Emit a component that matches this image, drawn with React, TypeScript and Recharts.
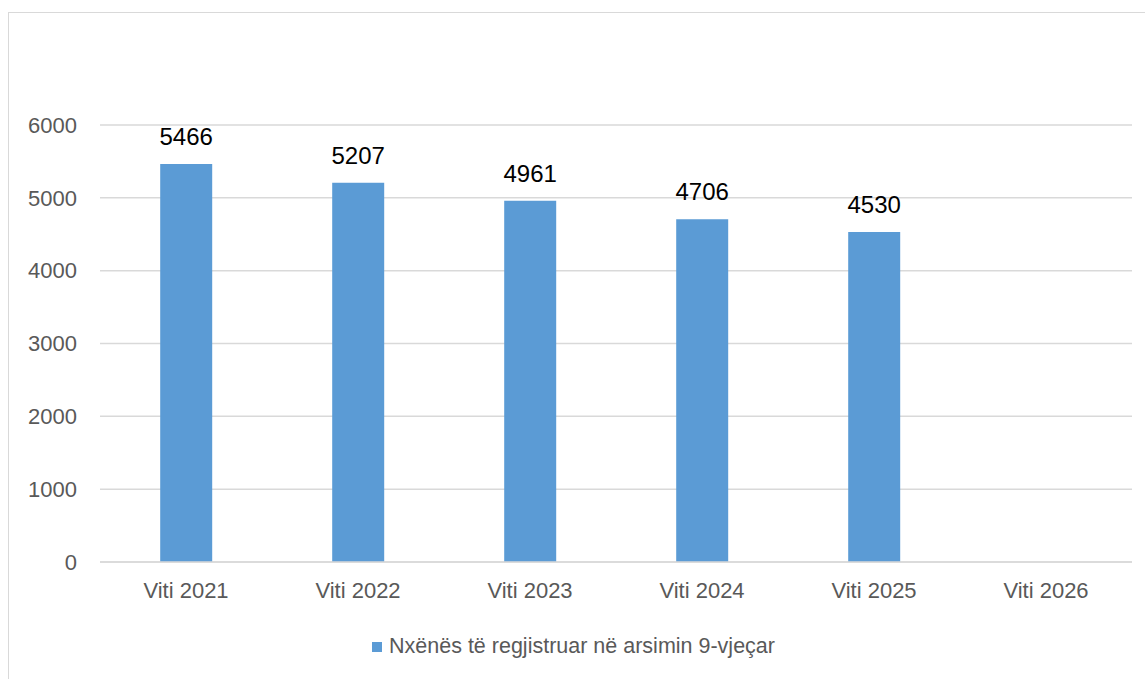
import React from "react";
import { BarChart, Bar, XAxis, YAxis, CartesianGrid, Legend, LabelList } from "recharts";

const categories = ["Viti 2021", "Viti 2022", "Viti 2023", "Viti 2024", "Viti 2025", "Viti 2026"];
const students: (number | null)[] = [5466, 5207, 4961, 4706, 4530, null];
const yTicks = [0, 1000, 2000, 3000, 4000, 5000, 6000];
const seriesName = "Nxënës të regjistruar në arsimin 9-vjeçar";

const data = categories.map((c, i) => ({ name: c, value: students[i] }));

const FONT = "'Liberation Sans', Arial, sans-serif";

export default function App() {
  return (
    <div style={{ position: "absolute", left: 0, top: 0, width: 1145, height: 679, overflow: "hidden", background: "#fff" }}>
      <div style={{ position: "absolute", left: 8, top: 12, width: 1160, height: 700, border: "1px solid #d9d9d9", boxSizing: "border-box" }} />
      <div style={{ position: "absolute", left: 0, top: 0 }}>
        <BarChart
          width={1145}
          height={679}
          data={data}
          margin={{ top: 125, right: 13, bottom: 0, left: 0 }}
          barCategoryGap="35%"
        >
          <CartesianGrid vertical={false} stroke="#d9d9d9" strokeWidth={1.5} />
          <XAxis
            dataKey="name"
            axisLine={{ stroke: "#d9d9d9", strokeWidth: 1.5 }}
            tickLine={false}
            tickSize={0}
            tickMargin={20}
            tick={{ fill: "#595959", fontSize: 22, fontFamily: FONT }}
            height={92}
          />
          <YAxis
            domain={[0, 6000]}
            ticks={yTicks}
            axisLine={false}
            tickLine={false}
            tickSize={0}
            tickMargin={23}
            width={100}
            tick={{ fill: "#595959", fontSize: 22, fontFamily: FONT }}
          />
          <Legend
            verticalAlign="bottom"
            align="center"
            iconType="square"
            iconSize={10}
            height={25}
            wrapperStyle={{ bottom: 20, left: 6, width: 1145, fontFamily: FONT, fontSize: 21.5, lineHeight: "25px" }}
            formatter={(v: string) => <span style={{ color: "#595959", paddingLeft: 3 }}>{v}</span>}
          />
          <Bar dataKey="value" name={seriesName} fill="#5b9bd5" isAnimationActive={false}>
            <LabelList dataKey="value" position="top" offset={19} fill="#000" fontSize={24} fontFamily={FONT} />
          </Bar>
        </BarChart>
      </div>
    </div>
  );
}
